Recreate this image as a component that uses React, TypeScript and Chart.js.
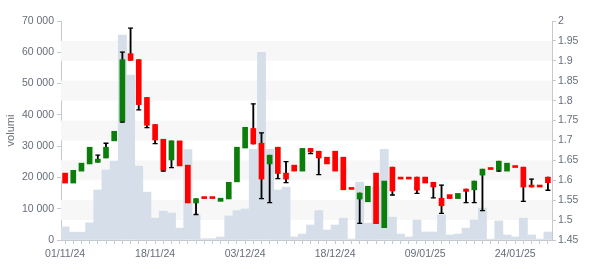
import { useEffect, useRef } from 'react';
import { Chart, registerables } from 'chart.js';

Chart.register(...registerables);

const dates = [
  '01/11/24','04/11/24','05/11/24','06/11/24','07/11/24','08/11/24','11/11/24','12/11/24','13/11/24','14/11/24','15/11/24','18/11/24',
  '19/11/24','20/11/24','21/11/24','22/11/24','25/11/24','26/11/24','27/11/24','28/11/24','29/11/24','02/12/24','03/12/24',
  '04/12/24','05/12/24','06/12/24','09/12/24','10/12/24','11/12/24','12/12/24','13/12/24','16/12/24','17/12/24','18/12/24',
  '19/12/24','20/12/24','23/12/24','27/12/24','30/12/24','02/01/25','03/01/25','06/01/25','07/01/25','08/01/25','09/01/25',
  '10/01/25','13/01/25','14/01/25','15/01/25','16/01/25','17/01/25','20/01/25','21/01/25','22/01/25','23/01/25','24/01/25',
  '27/01/25','28/01/25','29/01/25','30/01/25',
];

const tickLabels = ['01/11/24', '18/11/24', '03/12/24', '18/12/24', '09/01/25', '24/01/25'];

const volume = [
  4200, 2500, 2500, 5500, 16000, 22400, 25200, 65500, 52700, 23600, 15300, 7000,
  9200, 8600, 3800, 28900, 8000, 400, 400, 950, 7700, 9400, 9900,
  29000, 60000, 29000, 16000, 16900, 1000, 1900, 4800, 9400, 3200, 4800,
  7000, 300, 18500, 5400, 16900, 29000, 7300, 1900, 960, 6400, 2560,
  2560, 8000, 1600, 1900, 3800, 6400, 10200, 300, 6100, 1600, 960,
  7000, 1600, 300, 2560,
];

const open = [
  1.618, 1.593, 1.623, 1.641, 1.645, 1.656, 1.699, 1.748, 1.918, 1.903, 1.808, 1.740,
  1.703, 1.651, 1.699, 1.638, 1.543, 1.554, 1.554, 1.547, 1.553, 1.596, 1.681,
  1.730, 1.693, 1.641, 1.683, 1.618, 1.638, 1.623, 1.680, 1.673, 1.658, 1.673,
  1.658, 1.577, 1.553, 1.546, 1.618, 1.481, 1.633, 1.603, 1.603, 1.608, 1.608,
  1.595, 1.555, 1.564, 1.554, 1.578, 1.576, 1.613, 1.627, 1.625, 1.623, 1.632,
  1.633, 1.583, 1.583, 1.608,
];

const close = [
  1.593, 1.625, 1.643, 1.683, 1.653, 1.683, 1.723, 1.903, 1.901, 1.790, 1.738, 1.701,
  1.625, 1.699, 1.636, 1.543, 1.554, 1.554, 1.554, 1.555, 1.595, 1.683, 1.733,
  1.691, 1.603, 1.663, 1.617, 1.603, 1.623, 1.680, 1.671, 1.656, 1.641, 1.623,
  1.576, 1.577, 1.568, 1.585, 1.491, 1.598, 1.573, 1.603, 1.603, 1.575, 1.593,
  1.583, 1.536, 1.554, 1.567, 1.572, 1.598, 1.628, 1.627, 1.648, 1.643, 1.632,
  1.583, 1.583, 1.583, 1.594,
];

const high = [
  1.618, 1.625, 1.643, 1.683, 1.663, 1.693, 1.723, 1.922, 1.982, 1.903, 1.808, 1.740,
  1.703, 1.699, 1.699, 1.638, 1.554, 1.554, 1.554, 1.555, 1.595, 1.683, 1.733,
  1.792, 1.719, 1.663, 1.683, 1.647, 1.638, 1.680, 1.680, 1.673, 1.658, 1.673,
  1.658, 1.577, 1.568, 1.585, 1.618, 1.598, 1.633, 1.603, 1.603, 1.608, 1.608,
  1.595, 1.588, 1.564, 1.567, 1.578, 1.598, 1.628, 1.627, 1.648, 1.643, 1.632,
  1.633, 1.603, 1.583, 1.608,
];

const low = [
  1.593, 1.593, 1.623, 1.641, 1.645, 1.656, 1.699, 1.746, 1.901, 1.777, 1.732, 1.692,
  1.623, 1.632, 1.636, 1.543, 1.514, 1.554, 1.554, 1.547, 1.553, 1.596, 1.681,
  1.691, 1.554, 1.544, 1.604, 1.594, 1.623, 1.623, 1.667, 1.614, 1.641, 1.623,
  1.576, 1.577, 1.492, 1.546, 1.491, 1.481, 1.563, 1.603, 1.603, 1.567, 1.593,
  1.556, 1.517, 1.554, 1.554, 1.544, 1.544, 1.524, 1.627, 1.623, 1.623, 1.632,
  1.547, 1.583, 1.583, 1.575,
];

const UP = '#0a7d0a';
const DOWN = '#ff0000';
const VOL = '#d6dfe9';
const AXIS = '#c4c8cf';
const TEXT = '#666d7a';
const FONT = { family: '"Liberation Sans", Arial, sans-serif', size: 10.5 };

const bandsPlugin = {
  id: 'bands',
  beforeDatasetsDraw(chart: any) {
    const { ctx, chartArea, scales } = chart;
    const y1 = scales.y1;
    const ticks = y1.ticks;
    ctx.save();
    ctx.fillStyle = '#f7f7f7';
    for (let k = 1; k < ticks.length - 1; k += 2) {
      const ya = y1.getPixelForValue(ticks[k].value);
      const yb = y1.getPixelForValue(ticks[k + 1].value);
      ctx.fillRect(chartArea.left, yb, chartArea.right - chartArea.left, ya - yb);
    }
    ctx.restore();
  },
};

const fmtThousands = (v: any) => String(v).replace(/\B(?=(\d{3})+(?!\d))/g, ' ');

export default function App() {
  const ref = useRef<HTMLCanvasElement>(null);
  useEffect(() => {
    const bodies = open.map((o, i) => [o, close[i]]);
    const bodyColors = open.map((o, i) => (close[i] > o ? UP : DOWN));
    const wicks = open.map((o, i) =>
      high[i] > Math.max(o, close[i]) || low[i] < Math.min(o, close[i]) ? [low[i], high[i]] : null
    );
    const highCaps = open.map((o, i) => (high[i] > Math.max(o, close[i]) ? high[i] : null));
    const lowCaps = open.map((o, i) => (low[i] < Math.min(o, close[i]) ? low[i] : null));

    const capStyle = {
      type: 'line' as const,
      yAxisID: 'y1',
      showLine: false,
      pointStyle: 'line' as const,
      pointRadius: 2.5,
      pointHoverRadius: 2.5,
      pointBorderColor: '#000',
      pointBackgroundColor: '#000',
      pointBorderWidth: 1.3,
      order: 0,
    };

    const chart = new Chart(ref.current!, {
      type: 'bar',
      data: {
        labels: dates,
        datasets: [
          {
            type: 'bar',
            label: 'body',
            yAxisID: 'y1',
            data: bodies as any,
            backgroundColor: bodyColors,
            barThickness: 5,
            minBarLength: 2,
            grouped: false,
            order: 1,
          },
          {
            type: 'bar',
            label: 'wick',
            yAxisID: 'y1',
            data: wicks as any,
            backgroundColor: '#000',
            barThickness: 1.2,
            grouped: false,
            order: 2,
          },
          { ...capStyle, label: 'high', data: highCaps as any },
          { ...capStyle, label: 'low', data: lowCaps as any },
          {
            type: 'bar',
            label: 'volumi',
            yAxisID: 'y',
            data: volume,
            backgroundColor: VOL,
            barPercentage: 1,
            categoryPercentage: 1,
            grouped: false,
            order: 3,
          },
        ],
      },
      options: {
        animation: false,
        responsive: true,
        maintainAspectRatio: false,
        layout: { padding: { top: 21, left: 0, right: 0, bottom: 0 } },
        plugins: { legend: { display: false }, tooltip: { enabled: false } },
        scales: {
          x: {
            type: 'category',
            offset: true,
            grid: { display: true, drawOnChartArea: false, offset: false, tickLength: 4, color: AXIS },
            border: { display: true, color: AXIS },
            ticks: {
              autoSkip: false,
              maxRotation: 0,
              minRotation: 0,
              padding: 4,
              color: TEXT,
              font: FONT,
              callback: (_v: any, i: number) => (tickLabels.includes(dates[i]) ? dates[i] : ''),
            },
            afterFit: (s: any) => { s.height = 30; },
          },
          y: {
            position: 'left',
            min: 0,
            max: 70000,
            ticks: { stepSize: 10000, color: TEXT, font: FONT, padding: 3, callback: fmtThousands },
            grid: { display: true, drawOnChartArea: false, tickLength: 4, color: AXIS },
            border: { display: true, color: AXIS },
            title: { display: true, text: 'volumi', color: TEXT, font: { ...FONT, size: 11 } },
            afterFit: (s: any) => { s.width = 61; },
          },
          y1: {
            position: 'right',
            min: 1.45,
            max: 2,
            ticks: {
              stepSize: 0.05,
              color: TEXT,
              font: FONT,
              padding: 2,
              callback: (v: any) => String(Math.round(Number(v) * 100) / 100),
            },
            grid: { display: true, drawOnChartArea: false, tickLength: 4, color: AXIS },
            border: { display: true, color: AXIS },
            afterFit: (s: any) => { s.width = 48; },
          },
        },
      },
      plugins: [bandsPlugin],
    });
    return () => chart.destroy();
  }, []);

  return (
    <div style={{ position: 'absolute', left: 0, top: 0, width: 600, height: 270 }}>
      <canvas ref={ref} />
    </div>
  );
}
